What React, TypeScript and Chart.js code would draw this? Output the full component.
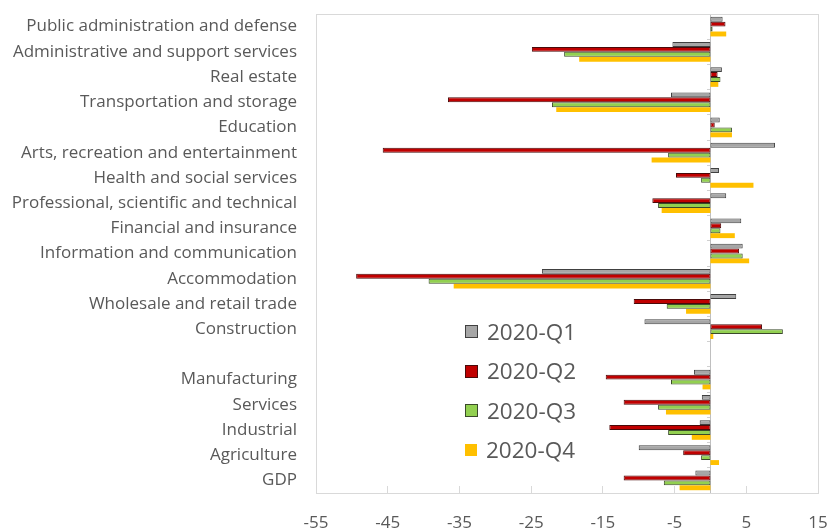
import React, { useEffect, useRef } from 'react';
import { Chart, registerables } from 'chart.js';

Chart.register(...registerables);

const categories = [
  'Public administration and defense',
  'Administrative and support services',
  'Real estate',
  'Transportation and storage',
  'Education',
  'Arts, recreation and entertainment',
  'Health and social services',
  'Professional, scientific and technical',
  'Financial and insurance',
  'Information and communication',
  'Accommodation',
  'Wholesale and retail trade',
  'Construction',
  '',
  'Manufacturing',
  'Services',
  'Industrial',
  'Agriculture',
  'GDP',
];

const seriesNames = ['2020-Q1', '2020-Q2', '2020-Q3', '2020-Q4'];

const q1 = [1.7, -5.3, 1.6, -5.5, 1.3, 9.0, 1.2, 2.2, 4.3, 4.5, -23.5, 3.6, -9.2, null, -2.3, -1.2, -1.5, -10.0, -2.1];
const q2 = [2.1, -24.9, 1.0, -36.6, 0.6, -45.7, -4.8, -8.1, 1.5, 4.0, -49.4, -10.7, 7.2, null, -14.6, -12.1, -14.1, -3.8, -12.1];
const q3 = [0.3, -20.4, 1.4, -22.1, 3.0, -5.9, -1.3, -7.3, 1.4, 4.5, -39.3, -6.1, 10.1, null, -5.5, -7.3, -5.9, -1.3, -6.5];
const q4 = [2.2, -18.3, 1.1, -21.5, 3.0, -8.2, 6.0, -6.8, 3.4, 5.4, -35.8, -3.4, 0.4, null, -1.1, -6.2, -2.6, 1.2, -4.3];

const xTicks = [-55, -45, -35, -25, -15, -5, 5, 15];

const fills = ['#a6a6a6', '#c00000', '#92d050', '#ffc000'];
const borders = ['#404040', '#4a0a0a', '#3a4a2a', '#ffc000'];
const borderWidths = [1, 1, 1, 0];

const FONT = '"Open Sans", "Noto Sans", sans-serif';
const TEXT = '#595959';

const framePlugin = {
  id: 'frame',
  beforeDatasetsDraw(chart: any) {
    const { ctx, chartArea } = chart;
    ctx.save();
    ctx.strokeStyle = '#d9d9d9';
    ctx.lineWidth = 1;
    ctx.strokeRect(
      Math.round(chartArea.left) + 0.5,
      Math.round(chartArea.top) + 0.5,
      Math.round(chartArea.right - chartArea.left),
      Math.round(chartArea.bottom - chartArea.top)
    );
    ctx.restore();
  },
};

export default function App() {
  const ref = useRef<HTMLCanvasElement | null>(null);

  useEffect(() => {
    if (!ref.current) return;
    const data = [q1, q2, q3, q4];
    const chart = new Chart(ref.current, {
      type: 'bar',
      data: {
        labels: categories,
        datasets: seriesNames.map((name, i) => ({
          label: name,
          data: data[i] as any,
          backgroundColor: fills[i],
          borderColor: borders[i],
          borderWidth: borderWidths[i],
          borderSkipped: false,
          categoryPercentage: 0.78,
          barPercentage: 1,
        })),
      },
      options: {
        indexAxis: 'y',
        animation: false,
        responsive: true,
        maintainAspectRatio: false,
        layout: { padding: { top: 14, right: 13, left: 0, bottom: 0 } },
        plugins: {
          legend: { display: false },
          tooltip: { enabled: false },
        },
        scales: {
          x: {
            type: 'linear',
            min: -55,
            max: 15,
            afterBuildTicks: (scale: any) => {
              scale.ticks = xTicks.map((v) => ({ value: v }));
            },
            afterFit: (scale: any) => {
              scale.height = 39;
              scale.paddingLeft = 0;
              scale.paddingRight = 0;
            },
            grid: {
              display: true,
              drawOnChartArea: false,
              drawTicks: true,
              tickLength: -7,
              color: '#d9d9d9',
            },
            border: { display: false },
            ticks: {
              padding: 27,
              color: TEXT,
              font: { family: FONT, size: 17 },
            },
          },
          y: {
            type: 'category',
            position: 'left',
            afterFit: (scale: any) => {
              scale.width = 316;
              scale.paddingTop = 0;
              scale.paddingBottom = 0;
            },
            grid: { display: false, drawTicks: false },
            border: { display: false },
            ticks: {
              padding: 19,
              color: TEXT,
              autoSkip: false,
              font: { family: FONT, size: 17 },
            },
          },
          y0: {
            type: 'category',
            labels: categories,
            position: { x: 0 } as any,
            offset: true,
            afterFit: (scale: any) => {
              scale.paddingTop = 0;
              scale.paddingBottom = 0;
            },
            grid: {
              drawOnChartArea: false,
              drawTicks: true,
              tickLength: 3,
              color: '#d0d0d0',
              offset: true,
            },
            border: { display: true, color: '#bfbfbf', width: 1 },
            ticks: { display: false },
          },
        },
      },
      plugins: [framePlugin],
    });
    return () => chart.destroy();
  }, []);

  return (
    <div style={{ position: 'fixed', left: 0, top: 0, width: 831, height: 532, background: '#fff' }}>
      <canvas ref={ref} />
      <div
        style={{
          position: 'absolute',
          left: 465,
          top: 312,
          fontFamily: FONT,
          fontSize: 22.5,
          color: TEXT,
        }}
      >
        {seriesNames.map((name, i) => (
          <div key={name} style={{ display: 'flex', alignItems: 'center', height: 39.5 }}>
            <span
              style={{
                display: 'inline-block',
                width: borderWidths[i] ? 11 : 12,
                height: borderWidths[i] ? 11 : 12,
                background: fills[i],
                border: borderWidths[i] ? `1px solid ${borders[i]}` : 'none',
                marginRight: 9,
              }}
            />
            <span style={{ lineHeight: '26px' }}>{name}</span>
          </div>
        ))}
      </div>
    </div>
  );
}
